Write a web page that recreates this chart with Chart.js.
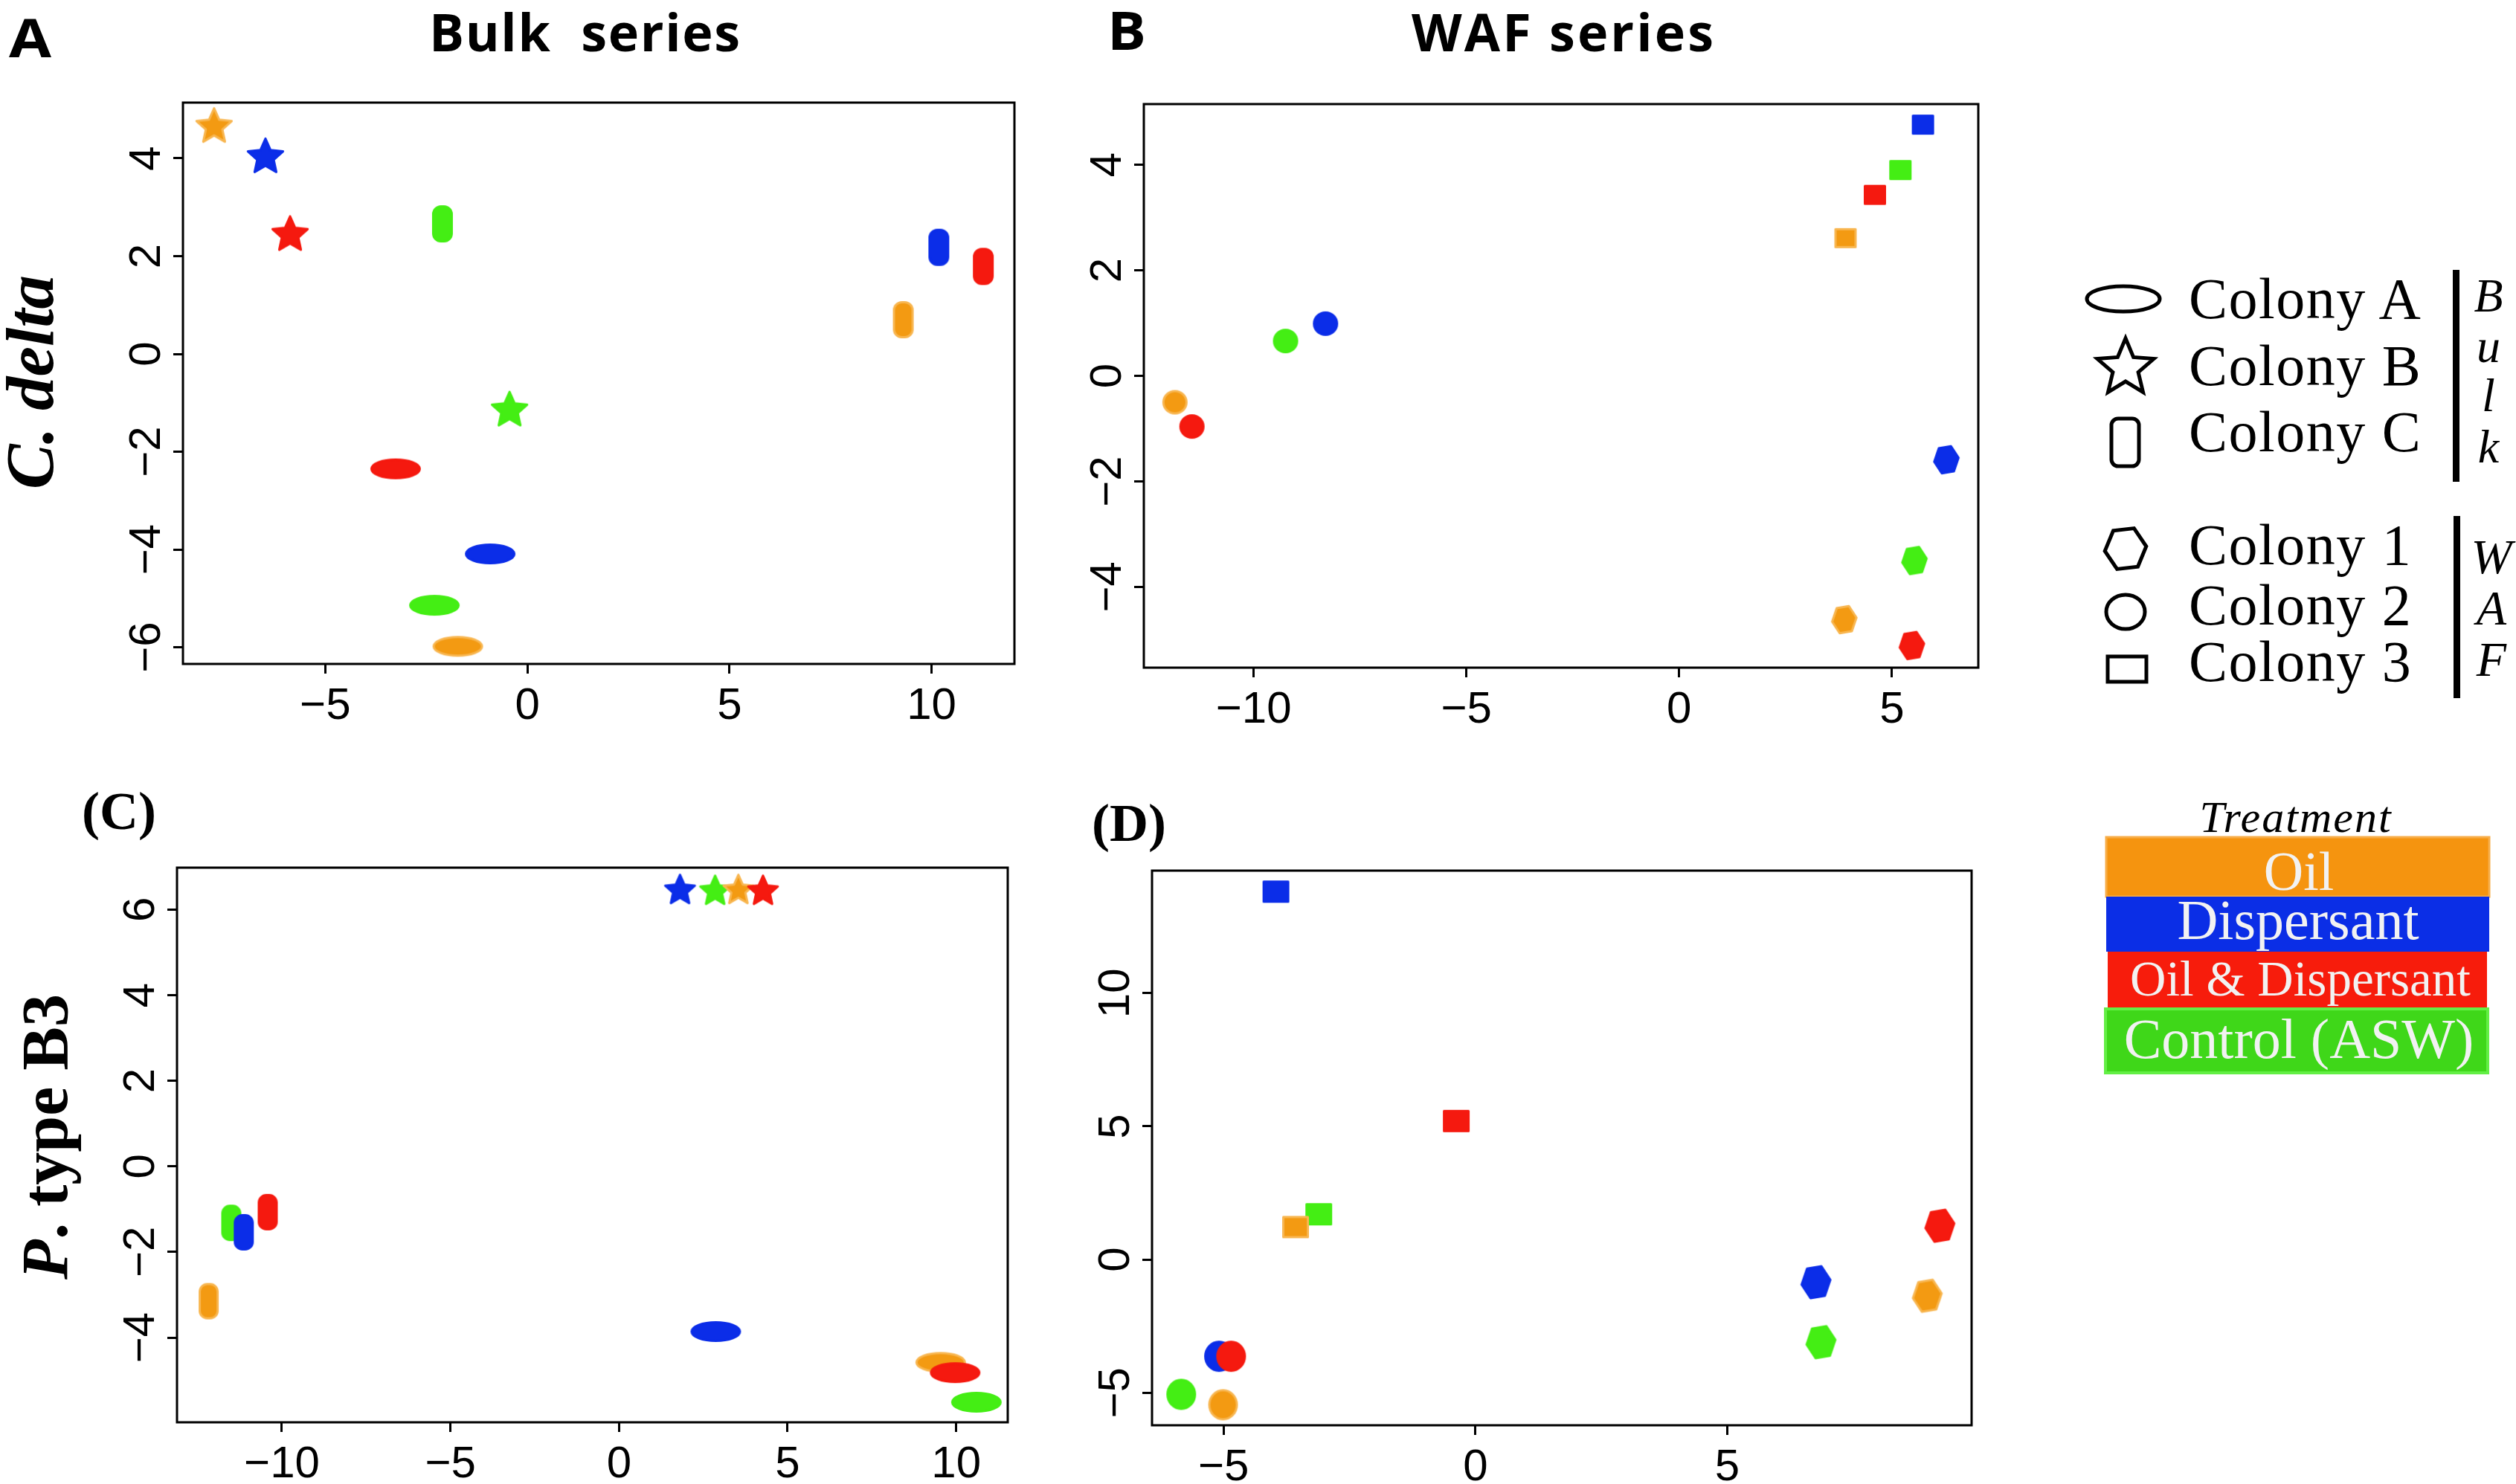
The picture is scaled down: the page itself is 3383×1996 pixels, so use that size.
<!DOCTYPE html>
<html>
<head>
<meta charset="utf-8">
<script src="https://cdn.jsdelivr.net/npm/chart.js@4/dist/chart.umd.min.js"></script>
<style>
  html, body { margin: 0; padding: 0; background: #fff; }
  #fig { position: relative; width: 3383px; height: 1996px; overflow: hidden; background: #fff; }
  #ann { position: absolute; left: 0; top: 0; pointer-events: none; }
</style>
</head>
<body>
<div id="fig">
<svg id="ann" width="3383" height="1996" xmlns="http://www.w3.org/2000/svg">
  <g font-family="'Open Sans', sans-serif" font-weight="700" fill="#000">
    <text x="12" y="77" font-size="72" textLength="57" lengthAdjust="spacingAndGlyphs">A</text>
    <text x="577" y="69" font-size="70" textLength="418" lengthAdjust="spacing">Bulk&#160; series</text>
    <text x="1489" y="67" font-size="72" textLength="52" lengthAdjust="spacingAndGlyphs">B</text>
    <text x="1898" y="69" font-size="70" textLength="406" lengthAdjust="spacing">WAF series</text>
  </g>
  <g font-family="'Liberation Serif', serif" font-weight="700" fill="#000">
    <text x="110" y="1115" font-size="72">(C)</text>
    <text x="1468" y="1131" font-size="72">(D)</text>
    <text transform="translate(71,514) rotate(-90)" text-anchor="middle" font-size="91" font-style="italic">C. delta</text>
    <text transform="translate(90,1529) rotate(-90)" text-anchor="middle" font-size="88"><tspan font-style="italic">P</tspan>. type B3</text>
  </g>
  <g id="legendShapes" fill="none" stroke="#000" stroke-width="5"></g>
  <g font-family="'Liberation Serif', serif" font-size="78" fill="#000" letter-spacing="1.5">
    <text x="2943" y="428">Colony A</text>
    <text x="2943" y="518">Colony B</text>
    <text x="2943" y="607">Colony C</text>
    <text x="2943" y="759">Colony 1</text>
    <text x="2943" y="840">Colony 2</text>
    <text x="2943" y="916">Colony 3</text>
  </g>
  <rect x="3298" y="363" width="9" height="285" fill="#000"/>
  <rect x="3299" y="694" width="9" height="245" fill="#000"/>
  <g font-family="'Liberation Serif', serif" font-style="italic" fill="#000" text-anchor="middle">
    <text x="3346" y="419" font-size="64">B</text>
    <text x="3346" y="487" font-size="64">u</text>
    <text x="3346" y="553" font-size="64">l</text>
    <text x="3346" y="622" font-size="64">k</text>
    <text x="3350" y="771" font-size="66">W</text>
    <text x="3350" y="840" font-size="66">A</text>
    <text x="3350" y="909" font-size="66">F</text>
    <text x="3087" y="1119" font-size="60" letter-spacing="2">Treatment</text>
  </g>
  <rect x="2832" y="1126" width="515" height="80" fill="#f5940f" stroke="#f7ad48" stroke-width="3"/>
  <rect x="2832" y="1206" width="515" height="74" fill="#0b2ee6"/>
  <rect x="2834" y="1280" width="510" height="76" fill="#f71c0c"/>
  <rect x="2831" y="1357" width="514" height="86" fill="#3fd719" stroke="#63ef45" stroke-width="4"/>
  <g font-family="'Liberation Serif', serif" fill="#f2f2f2" text-anchor="middle">
    <text x="3091" y="1197" font-size="74">Oil</text>
    <text x="3090" y="1263" font-size="76">Dispersant</text>
    <text x="3093" y="1339" font-size="67">Oil &amp; Dispersant</text>
    <text x="3091" y="1423" font-size="76">Control (ASW)</text>
  </g>
</svg>
</div>
<script>
// treatments, in the order every value array below is stored
const treatments = ['Oil', 'Dispersant', 'Oil & Dispersant', 'Control (ASW)'];

// (A) Bulk series, C. delta
const aColonyAX = [-1.72, -0.92, -3.26, -2.30];
const aColonyAY = [-5.98, -4.09, -2.35, -5.14];
const aColonyBX = [-7.75, -6.48, -5.87, -0.44];
const aColonyBY = [4.68, 4.06, 2.47, -1.12];
const aColonyCX = [9.30, 10.18, 11.28, -2.10];
const aColonyCY = [0.70, 2.18, 1.79, 2.66];

// (B) WAF series, C. delta
const bColony1X = [3.88, 6.28, 5.47, 5.53];
const bColony1Y = [-4.62, -1.59, -5.11, -3.50];
const bColony2X = [-11.85, -8.31, -11.45, -9.25];
const bColony2Y = [-0.50, 0.99, -0.96, 0.66];
const bColony3X = [3.91, 5.73, 4.60, 5.20];
const bColony3Y = [2.61, 4.76, 3.43, 3.90];

// (C) Bulk series, P. type B3
const cColonyAX = [9.54, 2.87, 9.97, 10.60];
const cColonyAY = [-4.58, -3.86, -4.82, -5.51];
const cColonyBX = [3.54, 1.81, 4.27, 2.85];
const cColonyBY = [6.48, 6.48, 6.46, 6.46];
const cColonyCX = [-12.17, -11.13, -10.42, -11.50];
const cColonyCY = [-3.15, -1.54, -1.07, -1.32];

// (D) WAF series, P. type B3
const dColony1X = [8.97, 6.76, 9.22, 6.86];
const dColony1Y = [-1.36, -0.85, 1.27, -3.10];
const dColony2X = [-5.01, -5.09, -4.85, -5.84];
const dColony2Y = [-5.45, -3.63, -3.63, -5.06];
const dColony3X = [-3.57, -3.96, -0.38, -3.11];
const dColony3Y = [1.22, 13.81, 5.20, 1.70];

// tick labels
const aXTicks = [-5, 0, 5, 10];
const aYTicks = [-6, -4, -2, 0, 2, 4];
const bXTicks = [-10, -5, 0, 5];
const bYTicks = [-4, -2, 0, 2, 4];
const cXTicks = [-10, -5, 0, 5, 10];
const cYTicks = [-4, -2, 0, 2, 4, 6];
const dXTicks = [-5, 0, 5];
const dYTicks = [-5, 0, 5, 10];

// styles
const fills = ['#f39a12', '#0b2de8', '#f5190f', '#44ee14'];
const edges = ['#f8b650', '#0b2de8', '#f5190f', '#44ee14'];
const drawOrder = [2, 0, 1, 3]; // first = drawn on top
const Y_AXIS_W = 150, X_AXIS_H = 92, PAD = 4;

const markerCache = {};
function starPath(g, R, r) {
  for (let k = 0; k < 10; k++) {
    const a = -Math.PI / 2 + k * Math.PI / 5;
    const rr = k % 2 ? r : R;
    g[k ? 'lineTo' : 'moveTo'](rr * Math.cos(a), rr * Math.sin(a) + R * 0.09);
  }
  g.closePath();
}
function marker(shape, w, h, t) {
  const key = [shape, w, h, t].join('|');
  if (markerCache[key]) return markerCache[key];
  const c = document.createElement('canvas');
  c.width = Math.ceil(w + 6);
  c.height = Math.ceil(h + 6);
  const g = c.getContext('2d');
  g.translate(c.width / 2, c.height / 2);
  const lw = 3, iw = w - lw, ih = h - lw;
  g.beginPath();
  if (shape === 'ellipse' || shape === 'circle') {
    g.ellipse(0, 0, iw / 2, ih / 2, 0, 0, Math.PI * 2);
  } else if (shape === 'pill') {
    g.roundRect(-iw / 2, -ih / 2, iw, ih, iw * 0.42);
  } else if (shape === 'star') {
    const R = ih / 1.81;
    starPath(g, R, R * 0.47);
  } else if (shape === 'hexagon') {
    for (let k = 0; k < 6; k++) {
      const a = (k * 60 - 8) * Math.PI / 180;
      g[k ? 'lineTo' : 'moveTo'](iw / 2 * Math.cos(a), ih / 2 * Math.sin(a) / 0.866);
    }
    g.closePath();
  } else {
    g.rect(-iw / 2, -ih / 2, iw, ih);
  }
  g.fillStyle = fills[t];
  g.fill();
  g.lineWidth = lw;
  g.strokeStyle = edges[t];
  g.lineJoin = 'round';
  g.stroke();
  markerCache[key] = c;
  return c;
}

const fmt = v => v < 0 ? '\u2212' + Math.abs(v) : String(v);

const frame = {
  id: 'frame',
  afterDraw(chart) {
    const {ctx, chartArea: a} = chart;
    ctx.save();
    ctx.lineWidth = 3;
    ctx.strokeStyle = '#000';
    ctx.strokeRect(a.left, a.top, a.right - a.left, a.bottom - a.top);
    ctx.restore();
  }
};

function axis(min, max, ticks, vertical) {
  return {
    type: 'linear',
    min: min,
    max: max,
    afterBuildTicks: ax => { ax.ticks = ticks.map(v => ({value: v})); },
    afterFit: ax => {
      // keep the plot box exactly where the layout puts it
      if (vertical) ax.width = Y_AXIS_W; else ax.height = X_AXIS_H;
      ax.paddingTop = ax.paddingBottom = ax.paddingLeft = ax.paddingRight = 0;
    },
    border: {display: false},
    grid: {drawOnChartArea: false, drawTicks: true, tickLength: 13, lineWidth: 3, tickWidth: 3, color: '#000', tickColor: '#000'},
    ticks: {
      color: '#000',
      font: {family: "'Liberation Sans', Arial, sans-serif", size: 60},
      autoSkip: false,
      padding: vertical ? 0 : 8,
      minRotation: vertical ? 90 : 0,
      maxRotation: vertical ? 90 : 0,
      crossAlign: vertical ? 'center' : 'near',
      callback: fmt
    }
  };
}

const panels = [
  {box: [246, 135, 1367, 893], x: [-8.52, 12.05], y: [-6.34, 5.14], xTicks: aXTicks, yTicks: aYTicks,
   colonies: [
     {shape: 'ellipse', w: 68, h: 28, xs: aColonyAX, ys: aColonyAY},
     {shape: 'star', w: 50, h: 48, xs: aColonyBX, ys: aColonyBY},
     {shape: 'pill', w: 28, h: 50, xs: aColonyCX, ys: aColonyCY}]},
  {box: [1538, 137, 2663, 898], x: [-12.58, 7.03], y: [-5.53, 5.15], xTicks: bXTicks, yTicks: bYTicks,
   colonies: [
     {shape: 'hexagon', w: 36, h: 37, xs: bColony1X, ys: bColony1Y},
     {shape: 'circle', w: 34, h: 33, xs: bColony2X, ys: bColony2Y},
     {shape: 'square', w: 30, h: 27, xs: bColony3X, ys: bColony3Y}]},
  {box: [238, 1164, 1358, 1913], x: [-13.11, 11.53], y: [-5.98, 6.98], xTicks: cXTicks, yTicks: cYTicks,
   colonies: [
     {shape: 'ellipse', w: 68, h: 28, xs: cColonyAX, ys: cColonyAY},
     {shape: 'star', w: 42, h: 41, xs: cColonyBX, ys: cColonyBY},
     {shape: 'pill', w: 27, h: 49, xs: cColonyCX, ys: cColonyCY}]},
  {box: [1549, 1168, 2654, 1917], x: [-6.42, 9.85], y: [-6.22, 14.60], xTicks: dXTicks, yTicks: dYTicks,
   colonies: [
     {shape: 'hexagon', w: 42, h: 43, xs: dColony1X, ys: dColony1Y},
     {shape: 'circle', w: 40, h: 42, xs: dColony2X, ys: dColony2Y},
     {shape: 'square', w: 36, h: 30, xs: dColony3X, ys: dColony3Y}]}
];

function buildChart(p) {
  const left = p.box[0] - Y_AXIS_W, top = p.box[1] - PAD;
  const width = p.box[2] + PAD - left, height = p.box[3] + X_AXIS_H - top;
  const canvas = document.createElement('canvas');
  canvas.width = width;
  canvas.height = height;
  canvas.style.cssText = `position:absolute;left:${left}px;top:${top}px;width:${width}px;height:${height}px`;
  document.getElementById('fig').insertBefore(canvas, document.getElementById('ann'));

  const datasets = drawOrder.map((t, k) => ({
    label: treatments[t],
    order: k,
    data: p.colonies.map(c => ({x: c.xs[t], y: c.ys[t]})),
    pointStyle: p.colonies.map(c => marker(c.shape, c.w, c.h, t)),
    pointRadius: 6,
    pointHoverRadius: 6
  }));

  new Chart(canvas, {
    type: 'scatter',
    data: {datasets},
    options: {
      responsive: false,
      animation: false,
      events: [],
      layout: {padding: {top: PAD, right: PAD, left: 0, bottom: 0}},
      plugins: {legend: {display: false}, tooltip: {enabled: false}},
      scales: {
        x: axis(p.x[0], p.x[1], p.xTicks, false),
        y: axis(p.y[0], p.y[1], p.yTicks, true)
      }
    },
    plugins: [frame]
  });
}

// legend symbols
function legendShapes() {
  const ns = 'http://www.w3.org/2000/svg';
  const g = document.getElementById('legendShapes');
  const add = (tag, attrs) => {
    const el = document.createElementNS(ns, tag);
    for (const k in attrs) el.setAttribute(k, attrs[k]);
    g.appendChild(el);
  };
  add('ellipse', {cx: 2855, cy: 402, rx: 49, ry: 17});
  const star = [];
  for (let k = 0; k < 10; k++) {
    const a = -Math.PI / 2 + k * Math.PI / 5, r = k % 2 ? 18 : 40;
    star.push((2858 + r * Math.cos(a)).toFixed(1) + ',' + (495 + r * Math.sin(a)).toFixed(1));
  }
  add('polygon', {points: star.join(' '), 'stroke-linejoin': 'miter'});
  add('rect', {x: 2839, y: 563, width: 37, height: 64, rx: 9});
  const hex = [];
  for (let k = 0; k < 6; k++) {
    const a = (k * 60 - 6) * Math.PI / 180;
    hex.push((2858 + 28 * Math.cos(a)).toFixed(1) + ',' + (738 + 26 * Math.sin(a) / 0.866).toFixed(1));
  }
  add('polygon', {points: hex.join(' ')});
  add('ellipse', {cx: 2858, cy: 823, rx: 26, ry: 23});
  add('rect', {x: 2834, y: 883, width: 52, height: 34});
}

legendShapes();
panels.forEach(buildChart);
</script>
</body>
</html>
